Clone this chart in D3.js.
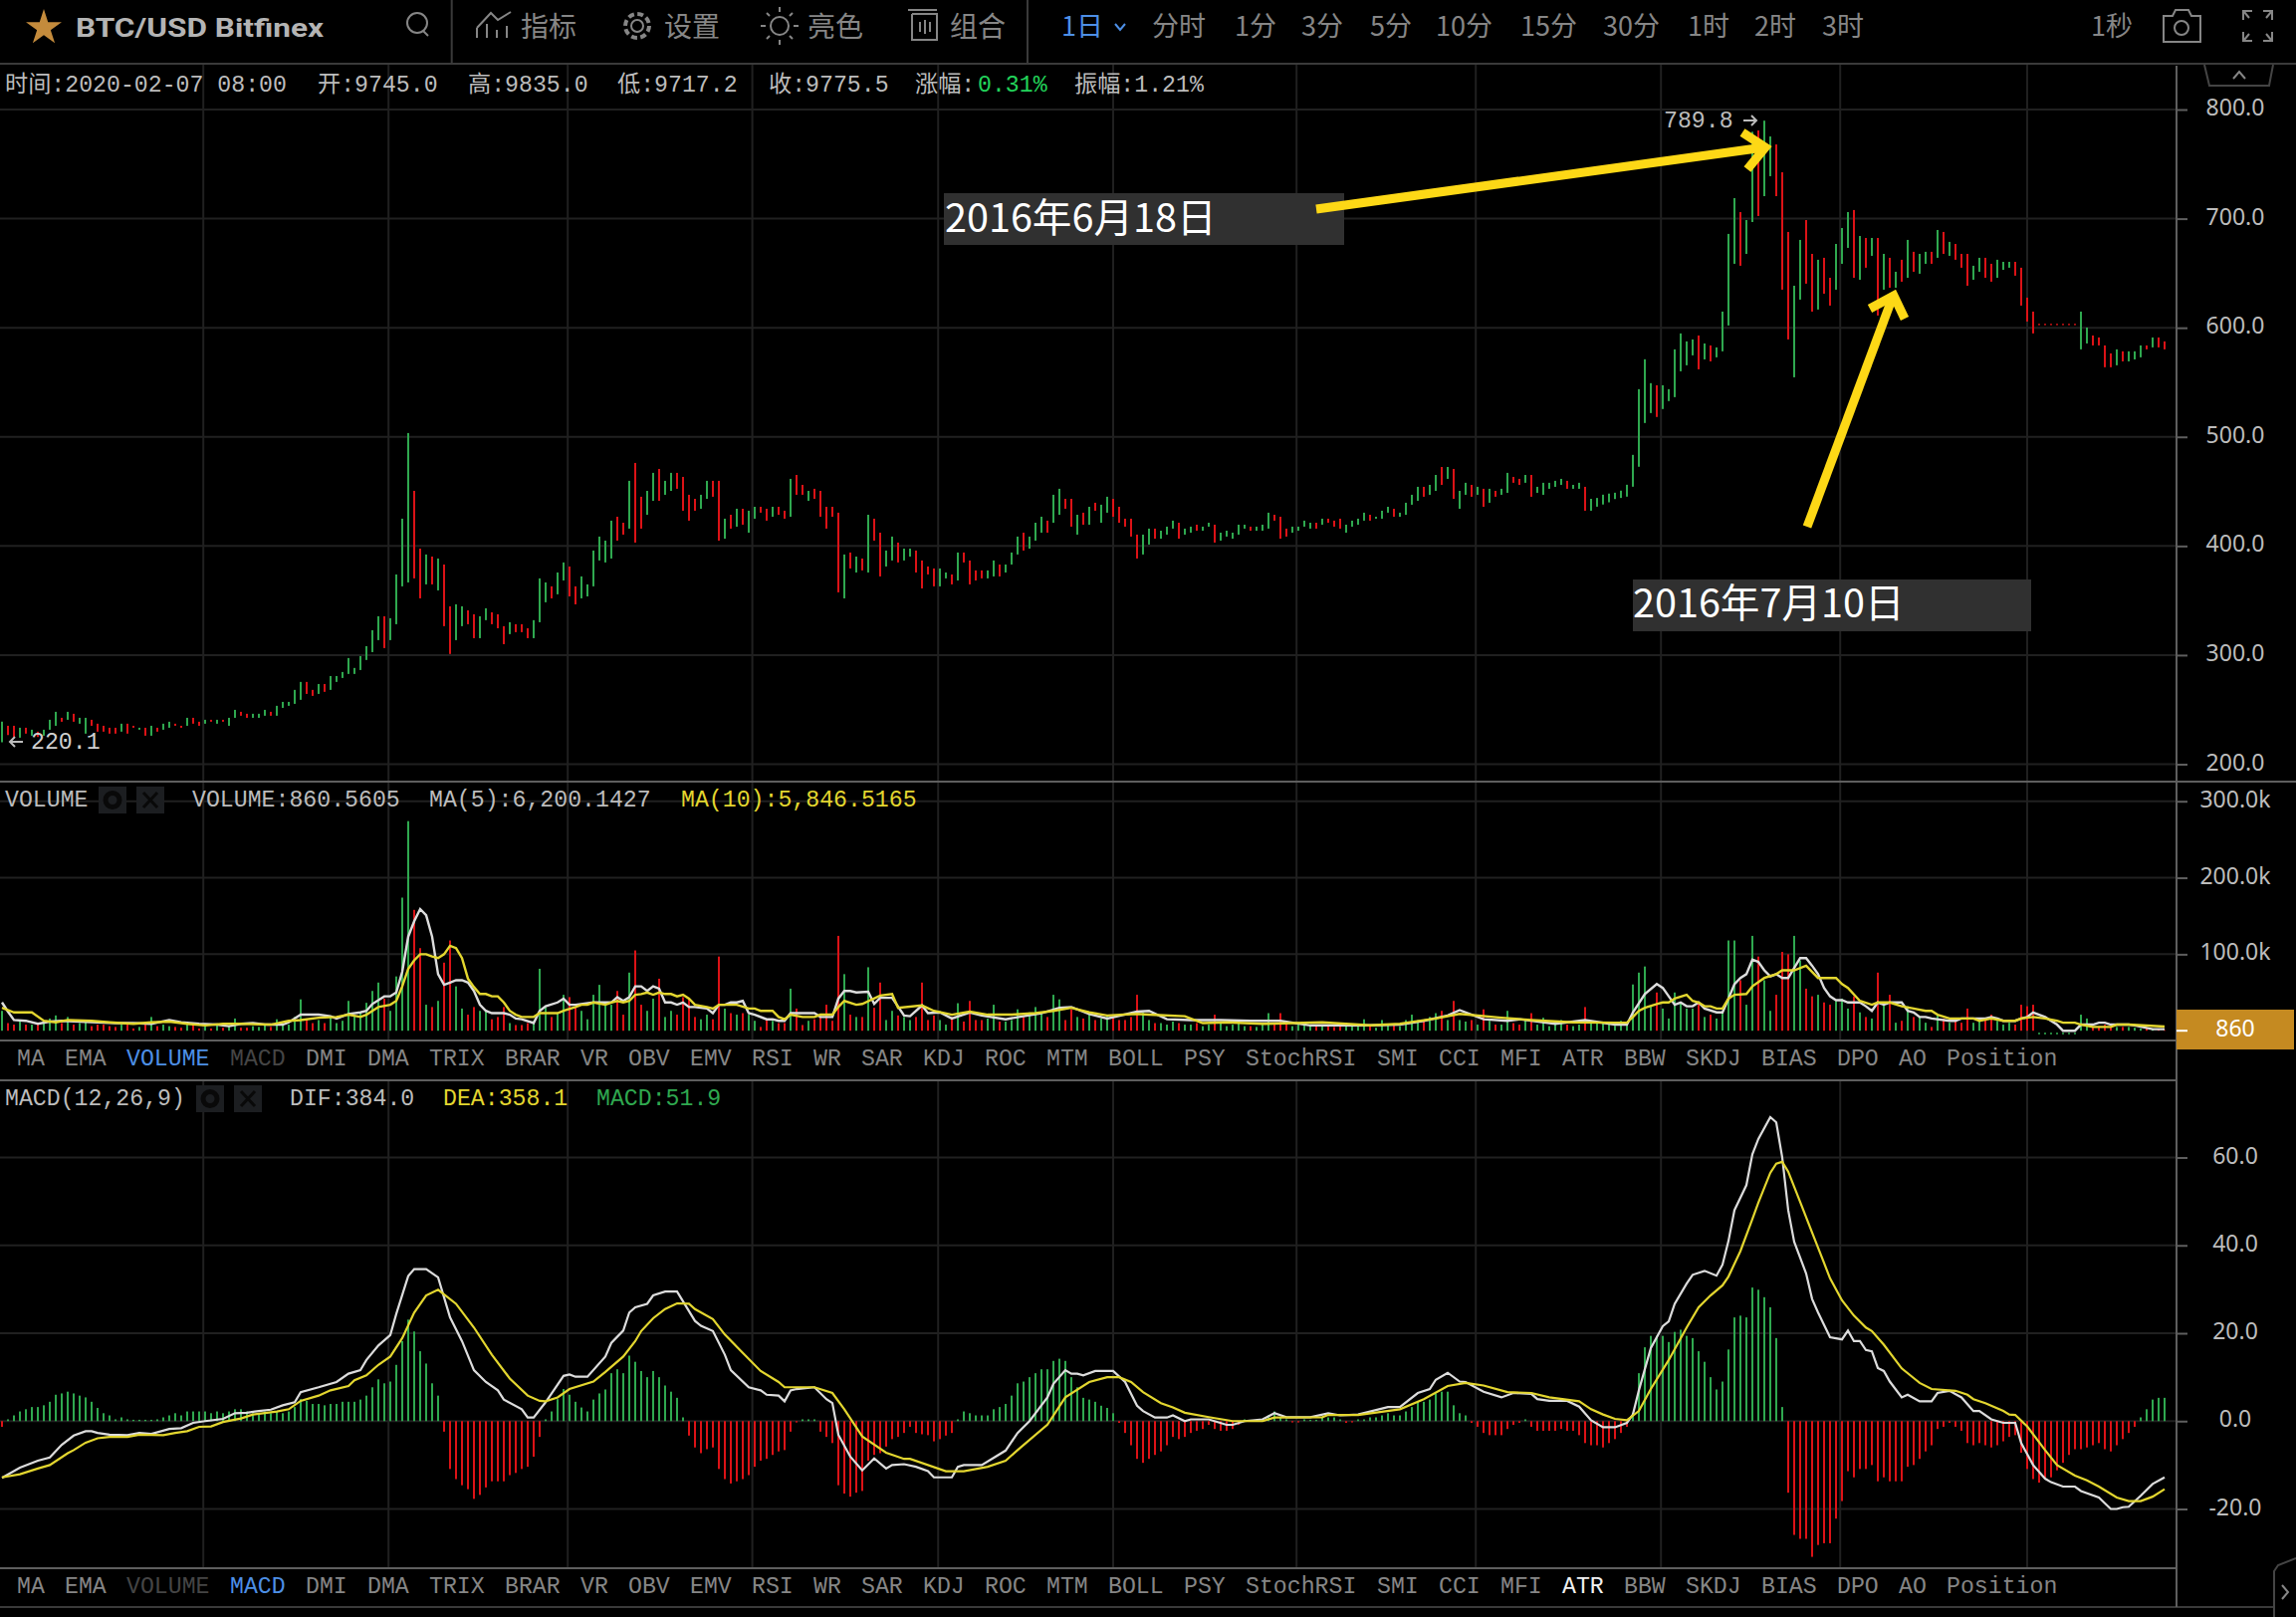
<!DOCTYPE html>
<html>
<head>
<meta charset="utf-8">
<script src="https://cdnjs.cloudflare.com/ajax/libs/d3/7.8.5/d3.min.js"></script>
<style>
  html, body { margin: 0; padding: 0; background: #000; }
  svg { display: block; }
</style>
</head>
<body>
<svg id="chart" width="2306" height="1624"></svg>
<script>
// candle range per day
const highs = [
  239,235.2,235.2,233.4,233.4,231.6,229.8,231.6,240.7,248,
  242.5,248,246.2,242.5,242.5,240.7,237.1,235.2,233.4,233.4,
  237.1,237.1,235.2,233.4,233.4,235.2,233.4,237.1,238.9,237.1,
  235.2,242.5,242.5,238.9,240.7,240.7,240.7,240.7,242.5,249.8,
  248,246.2,246.2,246.2,249.8,248,253.5,257.1,257.1,268.1,
  275.4,275.4,268.1,273.5,273.5,280.8,280.8,284.5,297.3,288.2,
  299.1,308.2,322.8,335.6,335.6,333.8,373.9,425,503.5,450.5,
  397.6,392.2,390.3,388.5,383,344.7,346.5,344.7,341,337.4,
  335.6,342.9,339.2,337.4,326.5,330.1,328.3,328.3,324.6,332,
  370.3,366.6,363,375.7,384.9,381.2,363,372.1,364.8,395.8,
  408.6,404.9,423.2,426.8,421.3,459.7,476.1,445.1,450.5,467,
  470.6,459.7,467,467,463.3,446.9,443.2,446.9,459.7,459.7,
  459.7,425,428.6,434.1,434.1,432.3,435.9,435.9,434.1,435.9,
  435.9,432.3,461.5,465.1,456,450.5,452.4,450.5,435.9,435.9,
  430.5,392.2,394,390.3,388.5,428.6,425,412.2,395.8,408.6,
  403.1,397.6,397.6,395.8,386.7,381.2,379.4,379.4,375.7,373.9,
  394,394,386.7,377.6,377.6,377.6,386.7,383,383,394,
  408.6,412.2,408.6,421.3,426.8,423.2,446.9,452.4,443.2,443.2,
  428.6,430.5,435.9,439.6,437.8,445.1,443.2,435.9,425,425,
  410.4,410.4,415.9,415.9,414,417.7,423.2,421.3,415.9,417.7,
  419.5,417.7,421.3,419.5,412.2,414,412.2,419.5,419.5,417.7,
  417.7,419.5,430.5,428.6,426.8,415.9,417.7,417.7,423.2,421.3,
  421.3,425,425,423.2,425,419.5,423.2,425,430.5,428.6,
  426.8,432.3,435.9,434.1,430.5,439.6,446.9,454.2,454.2,456,
  465.1,472.4,472.4,470.6,450.5,457.9,456,454.2,452.4,452.4,
  450.5,452.4,467,463.3,461.5,465.1,465.1,454.2,457.9,457.9,
  459.7,461.5,459.7,456,457.9,454.2,443.2,444,447,448,
  448.8,450.7,456.1,483.5,543.7,571.1,549.2,547.3,547.3,543.7,
  580.2,594.8,587.5,589.3,592.9,585.6,583.8,582,614.8,686,
  718.8,706,698.7,779.6,780.8,789.8,775.3,768,742.5,687.8,
  638.5,680.5,698.7,667.7,662.3,664.1,645.8,676.8,691.4,706,
  707.9,684.1,682.3,682.3,682.3,667.7,664.1,651.3,662.3,680.5,
  669.6,667.7,669.6,669.6,689.6,687.8,678.7,676.8,667.7,667.7,
  656.8,664.1,664.1,658.6,662.3,660.4,660.4,660.4,655,627.6,
  614.8,603.6,603.6,603.6,603.6,603.6,603.6,603.6,614.8,600.2,
  592.9,591.1,583.8,576.5,580.2,578.4,578.4,578.4,583.8,583.8,
  591.1,591.1,587.5
];
const lows = [
  220.1,226.7,224.6,224.3,228,226.1,224.9,226.1,231.6,235.2,
  238.9,240.7,238.9,237.1,228,235.2,229.8,229.8,228,228,
  229.8,228,233.4,231.6,226.1,226.1,229.8,231.6,233.4,235.2,
  233.4,235.2,237.1,235.2,237.1,238.9,237.1,238.9,235.2,242.5,
  244.4,242.5,242.5,242.5,244.4,244.4,244.4,251.6,253.5,255.3,
  259,264.4,262.6,264.4,266.3,268.1,275.4,279,282.7,282.7,
  286.3,295.5,302.7,313.7,306.4,313.7,328.3,363,366.6,370.3,
  352,364.8,364.8,359.3,326.5,301,313.7,326.5,328.3,315.5,
  315.5,332,328.3,324.6,310,319.2,321,321,315.5,315.5,
  330.1,348.4,352,355.7,368.4,353.8,346.5,352,353.8,363,
  386.7,384.9,388.5,404.9,410.4,415.9,403.1,415.9,428.6,441.4,
  441.4,446.9,450.5,452.4,432.3,423.2,432.3,434.1,443.2,445.1,
  404.9,406.7,415.9,417.7,419.5,412.2,425,430.5,423.2,426.8,
  428.6,425,426.8,446.9,446.9,441.4,443.2,426.8,415.9,426.8,
  357.5,352,379.4,375.7,377.6,375.7,404.9,372.1,381.2,386.7,
  384.9,386.7,390.3,375.7,361.1,373.9,363,363,370.3,364.8,
  368.4,384.9,364.8,368.4,370.3,370.3,372.1,372.1,375.7,383,
  392.2,395.8,397.6,404.9,412.2,412.2,421.3,428.6,434.1,417.7,
  410.4,419.5,419.5,432.3,421.3,430.5,426.8,421.3,417.7,408.6,
  388.5,392.2,401.3,406.7,406.7,410.4,415.9,406.7,410.4,412.2,
  414,414,417.7,403.1,404.9,408.6,406.7,410.4,415.9,414,
  414,414,415.9,423.2,406.7,408.6,412.2,414,417.7,415.9,
  415.9,419.5,421.3,417.7,415.9,412.2,417.7,419.5,423.2,423.2,
  425,425,430.5,426.8,426.8,428.6,437.8,441.4,445.1,446.9,
  450.5,456,461.5,443.2,434.1,446.9,445.1,446.9,435.9,439.6,
  445.1,446.9,448.7,457.9,456,457.9,445.1,448.7,446.9,452.4,
  454.2,456,452.4,452.4,452.4,432.3,432.3,436,438,440,
  443,444,445.2,454.3,472.6,512.7,521.8,518.2,525.5,532.8,
  536.4,560.1,565.6,574.7,561.9,571,569.2,572.9,578.4,602.1,
  658.6,656.8,667.7,696.9,702.4,720.6,738.9,720.6,634.9,589.3,
  554.6,625.8,640.4,614.8,616.7,631.2,620.3,634.9,658.6,673.2,
  645.8,644,655,665.9,611.2,634.9,636.7,636.7,642.2,645.8,
  651.3,649.5,658.6,658.6,664.1,667.7,665.9,662.3,655,638.5,
  644,651.3,645.8,642.2,645.8,653.1,655,647.7,620.3,605.7,
  594.8,602.4,602.4,602.4,602.4,602.4,602.4,602.4,580.2,585.6,
  583.8,583.8,563.8,563.8,565.6,569.2,569.2,571,572.9,580.2,
  582,582,580.2
];
// g = up (green), r = down (red), one letter per day
const directions = (
  "grrgrgrggg" + "rgrggrrrrr" + "grrgrgrggr" + "rgrrgrgrgg" + "rrgggrgggg" +
  "grrgrggggg" + "ggggrggggr" + "rgrgrrggrr" + "ggrrrgrrrg" + "ggrggrrggg" +
  "gggrrgrrgg" + "rggrrrrggr" + "rgrgrggrrg" + "rrgrrgrrrr" + "rgrgrgrrgg" +
  "rggrrrrggr" + "grrrrggrgg" + "grgggrggrr" + "grgrggrrrr" + "rggrgggrgg" +
  "rggrgggggr" + "gggrrrgggg" + "rgrrrggggr" + "gggrggggrg" + "grgrggrgrg" +
  "rggrrgrggg" + "ggrggrgggg" + "gggggggrgg" + "ggggrgrggg" + "grggrggrrr" +
  "ggrrgrrggg" + "rgrgrgrgrg" + "rggrgrgrrr" + "ggrrgggrrr" + "rrrrrrrrgg" +
  "rrrrgrgggr" + "grr"
).split("");

// volume in thousands
const volumes = [
  26,10,8,12,8,8,10,10,16,20,
  10,18,8,10,12,6,8,8,6,5,
  8,8,3,5,8,18,6,8,6,5,
  4,8,7,3,6,3,8,4,7,16,
  4,4,6,5,8,5,15,10,8,18,
  41,16,10,14,10,18,10,13,39,18.5,
  25,36.5,52,63,42,26,71,174,274,158,
  108,34,31,39,89,118,58,29,21,31,
  26,26,15,18,31,10,7.5,7.5,10,13,
  81,31,18,23,47,44,31,26,15,47,
  60,34,34,52,21,76,105,34,26,42,
  68,18,26,21,44,42,18,15,21,15,
  97,29,23,21,23,21,13,5,15,13,
  10,10,55,29,7.5,13,15,18,34,13,
  124,74,21,18,18,83,30,63,14,26,
  20,18,14,18,63,14,20,14,8,18,
  36,12,39,14,14,16,34,12,12,14,
  28,18,24,31,22,18,47,41,14,28,
  18,16,24,14,16,20,18,14,14,18,
  47,24,14,10,10,8,12,10,8,8,
  10,6,8,21,10,6,8,10,6,6,
  5,8,23,8,23,12,6,8,8,6,
  8,8,6,5,10,10,6,6,15,6,
  4,14,8,7,6,14,21,14,12,18,
  23,26,14,39,14,12,14,8,28,13,
  8,8,26,10,8,14,23,8,17,6,
  10,14,8,6,8,31,12,10,10,8,
  6.5,13,11,60.5,76,84,31.6,50,29,16,
  50,37,29,29,37,18,21,16,26,118,
  118,66,34,124,97,66,26,47,103,100,
  124,92,55,45,47,37,34,39,42,29,
  45,24,18,16,76,34,47,10.5,13,32,
  18,18,10.5,5,21,16,10.5,13,10.5,29,
  10.5,13,16,21,13,8,10.5,8,34,32,
  34,-2,-2,-2,-2,-2,-2,-2,21,16,
  5,5,8,5,5,5,5,4,3,3,
  3,2,0.9
];
const volumeMa5 = [
  [0,37],[1,25],[2,14],[4,13],[6,9],[8,12],[10,13],[13,12],[16,11],[19,10],[22,10],[25,9],[28,14],[30,11],[33,9],[36,8],[38,6],[40,9],[42,10],[44,8],[47,8],[48,11],[50,21],[53,21],[55,19],[56,16],
  [58,22],[60,24],[61,26],[62,35],[64,45],[65,45],[66,50],[67,77],[68,123],[69,143],[70,159],[71,151],[72,123],[73,74],[74,60],[75,63],[76,66],[77,66],[78,63],[79,52],[80,34],[81,26],[82,23],[84,23],[85,21],[86,16],[87,15],[89,10],[90,26],[91,32],[93,37],[94,42],[95,34],[96,34],[99,37],[102,37],[103,44],[104,39],[105,44],[106,58],[107,58],[108,52],[109,58],[110,55],[111,37],[112,37],[113,34],[114,37],[115,31],[116,31],[118,29],[119,23],[120,34],[121,34],[122,37],[123,37],[124,39],[125,23],[126,21],[128,15],[129,15],[130,13],[131,13],[132,23],[133,23],[136,23],[137,18],[139,18],[140,42],[141,52],[142,52],[143,50],
  [145,51],[146,35],[147,43],[149,43],[151,20],[152,19],[154,33],[155,23],[157,24],[159,16],[162,24],[164,20],[168,15],[174,23],[177,30],[179,31],[182,22],[185,16],[190,25],
  [192,26],[195,15],[199,14],[204,14],[209,13],[214,13],[219,7],[224,7],[229,7],[234,8],[238,13],[242,20],[244,27],[248,15],[252,13],[254,15],[260,9],[265,14],[270,8],
  [272,8],[273,24],[274,36],[275,48],[277,61],[278,56],[280,34],[281,37],[282,32],[283,32],[284,37],[285,29],[287,24],[288,24],[289,42],[290,61],[291,69],[292,74],[293,93],[294,90],[295,79],[296,71],[297,74],[298,69],[299,69],[300,82],[301,95],[302,95],[303,85],[304,74],[305,56],[306,45],[307,40],[308,40],[309,37],[311,37],[312,32],[313,26],[314,37],[315,34],[316,37],[318,37],[319,26],[320,24],[321,18],[322,18],[323,16],[326,13],[327,13],[328,16],[332,16],[333,18],[334,16],[335,13],[337,13],[338,16],[339,18],[340,24],[341,21],[342,18],[343,13],[344,8],[345,0],[347,0],[348,8],[350,8],[351,10.5],[352,10.5],[353,8],[356,8],[357,7],[360,2],[362,2]
];
const volumeMa10 = [
  [0,30],[2,24],[5,24],[7,13],[9,11],[11,14],[15,13],[18,11],[22,9],[25,11],[28,12],[31,9],[34,7],[37,9],[40,9],[45,8],[48,13],[50,14],[53,17],[56,18],
  [58,21],[60,18],[61,21],[62,26],[63,31],[65,34],[66,39],[67,58],[68,81],[69,92],[70,100],[71,100],[72,97],[73,95],[74,100],[75,111],[76,108],[77,95],[78,68],[79,57],[80,48],[81,48],[82,45],[83,45],[84,37],[85,26],[86,21],[87,18],[89,18],[90,23],[93,23],[94,26],[96,31],[97,34],[98,34],[99,37],[101,34],[102,37],[103,39],[104,37],[105,39],[106,47],[107,48],[108,50],[109,47],[110,50],[111,48],[112,48],[113,45],[114,47],[115,42],[116,34],[118,31],[119,29],[120,34],[123,34],[125,29],[126,29],[127,26],[129,26],[130,18],[131,15],[132,21],[134,18],[136,18],[137,21],[139,21],[140,31],[141,39],[143,34],
  [144,35],[147,46],[149,48],[150,30],[154,33],[156,26],[159,21],[162,25],[165,21],[169,21],[173,23],[176,26],[179,30],[182,24],[185,20],[190,22],
  [192,21],[198,19],[201,10],[205,11],[211,9],[221,11],[229,7],[234,9],[240,16],[244,22],[251,17],[256,14],[263,11],[270,10.5],
  [272,10.5],[273,18],[274,26],[275,30],[277,35],[278,37],[279,37],[280,42],[282,47],[283,39],[284,37],[285,32],[286,32],[287,29],[288,29],[289,42],[290,47],[292,48],[293,58],[295,69],[297,74],[298,79],[300,79],[302,85],[303,77],[304,69],[307,69],[308,61],[309,56],[311,39],[313,34],[314,37],[316,37],[318,32],[320,29],[322,26],[323,26],[324,21],[326,16],[330,16],[331,13],[333,16],[335,13],[337,13],[338,16],[340,18],[342,16],[344,13],[345,10.5],[347,10.5],[348,8],[350,5],[353,5],[354,8],[356,8],[362,5.5]
];

const macdHist = [
  -1.3,.4,1.3,2.2,2.7,3.2,3.2,3.6,4.4,6,
  6.3,6.7,6.3,5.8,5.4,4.4,3,1.8,1.3,.4,
  .85,.4,.3,.3,.3,.3,.4,.85,1.3,1.8,
  1.3,2.2,2.2,2.2,2.2,1.8,2.2,1.8,2.2,2.7,
  2.7,2.2,1.8,1.8,2.2,1.8,2.2,1.8,2.2,3.2,
  5,4.6,3.9,3.9,3.6,3.9,3.9,4.4,4.4,4.4,
  4.9,5.8,7.7,9.5,8.6,9,12.8,18.2,23.1,20.4,
  15.9,13.1,8.6,5.8,-2.4,-10.9,-13.2,-14.6,-15.5,-17.7,
  -16.8,-15.1,-13.7,-13.7,-13.7,-12.3,-11.8,-10.9,-10.4,-8.1,
  -3.6,.4,2.2,5,7.3,6,4.4,3.1,2.2,4.9,
  6.3,7.2,10.9,11.8,10.9,14.9,13.5,11.4,10,11.4,
  10,8.1,6.7,5.3,.85,-3.3,-6,-7.3,-6.4,-6,
  -10.9,-13.2,-14.2,-13.7,-13.2,-12.3,-10.4,-9,-8.6,-7.7,
  -6.9,-6.6,-2.4,-.3,.4,.4,.4,-2.4,-3.6,-5,
  -14.6,-16.5,-17.2,-16.3,-15.9,-9,-7.7,-7.3,-5.8,-4.1,
  -3.6,-2.7,-1.3,-2.7,-3,-3.2,-4.6,-4.1,-3.3,-2.7,
  .4,2.2,1.8,1.3,1.3,1.3,2.7,3.2,3.9,5.8,
  8.6,9,10,10.9,11.8,11.8,13.7,14.2,13.7,10,
  7.7,5.3,4.9,4.4,3.5,3,1.8,-.4,-2.7,-5.5,
  -8.6,-9.5,-8.6,-7.7,-6.9,-5.5,-3.6,-4.1,-3.6,-2.7,
  -2.2,-1.8,-.85,-1.8,-2.2,-2.2,-1.8,-.85,.4,.3,
  .3,.3,1.3,2.2,.85,.4,-.3,-.3,.4,.3,
  .3,.85,.85,.85,.4,-.4,-.3,.4,.4,.85,
  .85,1.3,1.8,1.3,1.3,2.2,3.2,4.4,4.4,4.9,
  6.3,6.7,6.7,3.6,1.8,1.3,-.4,-1.3,-2.7,-3.2,
  -3.2,-3.2,-1.8,-.85,-.4,.4,-1.3,-2.2,-2.2,-2.2,
  -2.2,-1.8,-2.2,-2.2,-3.2,-5,-5.5,-5.5,-6,-5,
  -4.1,-2.7,-1.3,1.9,10.9,16.8,19.4,19.4,19.4,18,
  20.3,20.8,19.4,18.9,15.9,13.5,10,7.2,9,16.3,
  23.6,24,23.6,30.4,29.9,28.2,25.9,18.9,3.2,-16.3,
  -25.9,-26.8,-26.8,-30.9,-28.2,-27.8,-27.8,-22.2,-18.2,-11.4,
  -12.8,-10.9,-10.9,-10,-13.7,-12.8,-13.7,-13.7,-13.7,-10.4,
  -10,-8.6,-6.9,-5.5,-1.8,-1.3,-.4,-1.3,-2.2,-5,
  -5.5,-5,-5.5,-6,-5.5,-4.6,-3.6,-3.2,-7.2,-10.9,
  -13.2,-14,-13.2,-12.8,-11.2,-9.5,-7.7,-6.4,-6.4,-6,
  -5.5,-5,-6.4,-6.9,-5.5,-4.1,-2.7,-1.3,.85,2.7,
  4.9,5.3,5.3
];
const difPoints = [
  [0,-12.9],[3,-10.6],[6,-9],[8,-8.3],[10,-5.4],[12,-3.3],[14,-2.3],[15,-2.3],[16,-2.7],[18,-3.1],[21,-3.2],[23,-2.7],[25,-2.9],[28,-1.8],[30,-1.6],[32,-.4],[34,0],[37,.5],[39,1.8],[41,1.9],[43,2.3],[45,2.6],[47,3.6],[49,4.3],[50,6.6],[53,7.7],[56,8.9],[58,10.8],[60,11.6],[61,13.9],[63,17.2],[65,19.6],[66,24.4],[68,33],[69,34.6],[71,34.6],[73,32.7],[75,23.6],[77,18.2],[79,11.6],[81,8.9],[83,7],[84,4.9],[87,2.7],[88,.8],[89,.8],[91,4.3],[94,10.3],[95,10.6],[96,10.1],[98,10.1],[101,14.7],[102,17.8],[104,20.6],[105,24.7],[106,25.9],[108,26.7],[109,28.6],[111,29.5],[113,29.5],[116,22.8],[117,21.7],[119,20.5],[121,15.1],[122,11.6],[125,7.7],[127,7],[128,6],[130,5.8],[131,4.5],[132,7],
  [133,7.3],[136,7.7],[138,5],[139,4.1],[140,-3.1],[142,-8.1],[144,-11.2],[146,-8.5],[148,-10.8],[149,-10],[151,-9.8],[153,-10.4],[155,-11.4],[156,-12.8],[159,-12.8],[160,-10.4],[161,-10],[164,-10],[168,-6.7],[170,-2.7],[172,0],[175,5.4],[176,8.5],[178,11.6],[179,10.8],[180,10.8],[181,10.4],[183,11.4],[186,11.4],[188,8.9],[190,3.5],[191,2.3],[193,.8],[195,.8],[196,1.3],[198,0],[199,.4],[202,.4],[205,-.85],[206,-.85],[208,0],[211,.4],[213,1.8],[215,.9],[219,.9],[222,1.8],[224,1.3],[227,1.5],[232,3.2],[234,3.2],[237,6.4],[239,7.3],[240,9.4],[242,11],[244,9],[245,8.9],[248,6.7],[251,5.4],[253,6.4],[256,6.2],[257,5],[259,4.6],[262,4.6],[264,3.3],[266,.2],
  [268,-1.4],[270,-1.4],[272,-.4],[273,1.5],[274,7],[276,16.6],[278,21.6],[279,22.7],[280,26.7],[282,31.3],[283,33.3],[285,34.2],[287,33.1],[288,35.6],[289,41],[290,48],[292,53.7],[293,60.7],[294,64.2],[296,69.2],[297,68],[298,60],[299,48],[300,40.8],[302,33.6],[303,27.8],[304,24.7],[306,19.1],[308,18.6],[309,20.6],[310,18.2],[311,18.2],[312,16.2],[313,15.9],[314,12.1],[315,11.4],[316,9],[318,5.4],[319,6],[321,4.5],[323,4.5],[324,6.4],[326,6.9],[328,5.4],[330,2.3],[331,2.3],[333,.4],[335,-.4],[337,-.4],[338,-5],[340,-10],[342,-13.1],[343,-13.9],[345,-14.9],[347,-14.9],[348,-15.9],[351,-17.4],[353,-20],[354,-20],[355,-19.6],[356,-19.5],[358,-17],[360,-14.3],[362,-12.8]
];
const deaPoints = [
  [0,-12.8],[3,-12.1],[6,-10.8],[8,-10],[11,-7.3],[12,-6.6],[14,-4.9],[16,-3.9],[18,-3.6],[21,-3.6],[23,-3.1],[27,-3.2],[29,-2.7],[31,-2.3],[33,-1.3],[35,-1.2],[37,-.2],[40,.6],[42,1.5],[46,2.2],[48,2.7],[50,4.6],[53,5.8],[55,7],[58,8],[59,9.3],[61,10.4],[63,12.8],[65,14.7],[67,18.9],[69,24.7],[71,28.6],[73,29.9],[76,26.7],[79,21.3],[82,15.1],[85,9.7],[88,5.8],[90,4.6],[91,4.5],[93,5.4],[95,7.3],[99,9],[101,11.2],[104,14.7],[106,18.2],[107,20.5],[109,23.4],[111,25.5],[113,26.8],[115,26.7],[116,25.5],[119,23.2],[121,19.7],[124,15.5],[127,11.4],[130,8.9],[131,7.7],[133,7.7],
  [136,7.7],[139,6.4],[141,2.7],[144,-3.5],[148,-7.2],[151,-8.6],[152,-8.6],[158,-11.4],[161,-11.4],[165,-10.4],[168,-9],[170,-6.6],[175,-.8],[178,5.4],[182,8.9],[185,10],[187,10],[189,8.9],[191,6.6],[194,4.1],[196,3.1],[198,1.9],[202,.9],[206,0],[211,0],[213,.8],[221,.9],[222,1.4],[227,1.4],[234,2.7],[238,5],[242,8],[245,8.7],[248,8.1],[252,6.6],[256,6.4],[259,5.4],[264,4.5],[266,2.7],
  [268,1.5],[270,.5],[272,.2],[274,2.3],[276,7.3],[279,13.9],[282,21.3],[284,25.9],[286,28.6],[288,30.9],[289,32.9],[291,38.7],[293,46],[294,49.7],[296,56.5],[297,58.6],[298,59],[299,56.8],[301,49.9],[303,42.9],[305,36],[306,32.5],[308,27.5],[310,24],[312,21.3],[313,20.5],[315,17.4],[318,12],[320,9.8],[321,8.7],[323,7.3],[327,6.9],[329,6],[330,5],[332,4.1],[335,2.3],[336,1.5],[337,1.4],[339,-1.2],[342,-6.6],[344,-10],[347,-12.4],[349,-13.5],[351,-14.9],[354,-17.4],[356,-18.2],[358,-18.2],[360,-17.2],[362,-15.5]
];

const priceTicks = [800, 700, 600, 500, 400, 300, 200];
const volumeTicks = [300, 200, 100];
const macdTicks = [60, 40, 20, 0, -20];
const monthLines = [33.7, 64.7, 94.7, 125.6, 156.7, 186, 216.7, 246.7, 277.7, 307.7, 339];
const indicatorNames = ["MA","EMA","VOLUME","MACD","DMI","DMA","TRIX","BRAR","VR","OBV","EMV","RSI","WR","SAR","KDJ","ROC","MTM","BOLL","PSY","StochRSI","SMI","CCI","MFI","ATR","BBW","SKDJ","BIAS","DPO","AO","Position"];
const toolbarItems = [["指标",523],["设置",667],["亮色",811],["组合",954]];
const periodItems = [["分时",1157],["1分",1240],["3分",1307],["5分",1376],["10分",1442],["15分",1527],["30分",1610],["1时",1695],["2时",1762],["3时",1830],["1秒",2100]];

const GREEN = "#2fa84f", RED = "#dc1216", GRID = "#202020", EDGE = "#5e5e5e";
const WHITE = "#dcdcdc", YELLOW = "#e3d62f", TXT = "#bcbcbc", DIM = "#868686", BLUE = "#4d8fe6";
const MONO = "'Liberation Mono','Noto Sans CJK SC',monospace";
const CJK = "'Noto Sans CJK SC',sans-serif";
const AXISFONT = "'Noto Sans',sans-serif";

const axisX = 2186;
const panes = {
  main: { top: 65, bottom: 785 },
  vol: { top: 785, bottom: 1045 },
  macd: { top: 1085, bottom: 1575 },
};

const svg = d3.select("#chart");
svg.append("rect").attr("width", 2306).attr("height", 1624).attr("fill", "#000");

const x = d3.scaleLinear().domain([0, 362]).range([2, 2174]);
const yPrice = d3.scaleLinear().domain([200, 800]).range([767.5, 110]);
const yVol = d3.scaleLinear().domain([0, 300]).range([1035.2, 804.7]);
const yMacd = d3.scaleLinear().domain([-20, 60]).range([1515.5, 1162.5]);

function label(parent, px, py, text, fill, size = 23.2, family = MONO) {
  return parent.append("text")
    .attr("x", px).attr("y", py).attr("dy", ".35em")
    .attr("fill", fill).attr("font-size", size).attr("font-family", family)
    .style("white-space", "pre")
    .text(text);
}

// grid
const gridLayer = svg.append("g").attr("stroke", GRID).attr("stroke-width", 2);
Object.values(panes).forEach((p) => {
  gridLayer.append("g").selectAll("line").data(monthLines).join("line")
    .attr("x1", (d) => x(d)).attr("x2", (d) => x(d))
    .attr("y1", p.top).attr("y2", p.bottom);
});
[[priceTicks, yPrice], [volumeTicks, yVol], [macdTicks, yMacd]].forEach(([ticks, y]) => {
  gridLayer.append("g").selectAll("line").data(ticks).join("line")
    .attr("x1", 0).attr("x2", axisX)
    .attr("y1", (d) => y(d)).attr("y2", (d) => y(d));
});

// candles (the bodies are as thin as the wicks at this zoom)
svg.append("g").selectAll("rect").data(highs).join("rect")
  .attr("x", (d, i) => x(i) - 1)
  .attr("width", 2)
  .attr("y", (d) => yPrice(d))
  .attr("height", (d, i) => Math.max(1, yPrice(lows[i]) - yPrice(d)))
  .attr("fill", (d, i) => (directions[i] === "g" ? GREEN : RED));

// volume
svg.append("g").selectAll("rect").data(volumes).join("rect")
  .attr("x", (d, i) => x(i) - 1)
  .attr("width", 2)
  .attr("y", (d) => Math.min(yVol(d), yVol(0)) + (d < 0 ? 2 : 0))
  .attr("height", (d) => Math.abs(yVol(d) - yVol(0)))
  .attr("fill", (d, i) => (d < 0 || directions[i] === "g" ? GREEN : RED));

const volLine = d3.line().x((d) => x(d[0])).y((d) => yVol(d[1]));
svg.append("path").attr("d", volLine(volumeMa5)).attr("fill", "none").attr("stroke", WHITE).attr("stroke-width", 2.4);
svg.append("path").attr("d", volLine(volumeMa10)).attr("fill", "none").attr("stroke", YELLOW).attr("stroke-width", 2.4);

// macd
svg.append("g").selectAll("rect").data(macdHist).join("rect")
  .attr("x", (d, i) => x(i) - 1)
  .attr("width", 2)
  .attr("y", (d) => Math.min(yMacd(d), yMacd(0)))
  .attr("height", (d) => Math.abs(yMacd(d) - yMacd(0)))
  .attr("fill", (d) => (d >= 0 ? GREEN : RED));

const macdLine = d3.line().x((d) => x(d[0])).y((d) => yMacd(d[1]));
svg.append("path").attr("d", macdLine(difPoints)).attr("fill", "none").attr("stroke", WHITE).attr("stroke-width", 2.2);
svg.append("path").attr("d", macdLine(deaPoints)).attr("fill", "none").attr("stroke", YELLOW).attr("stroke-width", 2.2);

// pane borders
[[64, 2306, "#3a3a3a"], [785, 2306, EDGE], [1045, axisX, EDGE], [1085, axisX, EDGE], [1575, axisX, EDGE], [1614, 2284, "#3a3a3a"]].forEach(([py, x2, c]) => {
  svg.append("line").attr("x1", 0).attr("x2", x2).attr("y1", py).attr("y2", py)
    .attr("stroke", c).attr("stroke-width", 2);
});

// right axes
function rightAxis(y, ticks, fmt) {
  const g = svg.append("g").attr("transform", `translate(${axisX},0)`)
    .call(d3.axisRight(y).tickValues(ticks).tickFormat(fmt).tickSize(11));
  g.select(".domain").remove();
  g.selectAll(".tick line").attr("stroke", EDGE).attr("stroke-width", 2);
  g.selectAll(".tick text")
    .attr("x", 59).attr("dy", ".24em").attr("text-anchor", "middle")
    .attr("fill", TXT).attr("font-size", 23).attr("font-family", AXISFONT);
}
rightAxis(yPrice, priceTicks, (d) => d.toFixed(1));
rightAxis(yVol, volumeTicks, (d) => d.toFixed(1) + "k");
rightAxis(yMacd, macdTicks, (d) => d.toFixed(1));
svg.append("line").attr("x1", axisX).attr("x2", axisX).attr("y1", 66).attr("y2", 1614)
  .attr("stroke", EDGE).attr("stroke-width", 2);

// last volume tag
svg.append("rect").attr("x", 2186).attr("y", 1014).attr("width", 118).attr("height", 40).attr("fill", "#c58a21");
svg.append("line").attr("x1", 2186).attr("x2", 2197).attr("y1", yVol(0)).attr("y2", yVol(0)).attr("stroke", "#fff").attr("stroke-width", 2);
label(svg, 2245, 1033, "860", "#fff", 23, AXISFONT).attr("text-anchor", "middle");

const markers = svg.append("g").attr("fill", "none").attr("stroke", TXT).attr("stroke-width", 2);

// high and low markers
label(svg, 1671, 120, "789.8", TXT, 23.2);
markers.append("path").attr("d", "M1751 121 H1764 M1759 116 L1764 121 L1759 126");
markers.append("path").attr("d", "M10 745 H23 M15 740 L10 745 L15 750");
label(svg, 31, 744, "220.1", "#d0d0d0", 23.2);

// toolbar
svg.append("path")
  .attr("d", d3.symbol(d3.symbolStar, 400)())
  .attr("transform", "translate(44,28)")
  .attr("fill", "#c48b3c");
label(svg, 76, 28, "BTC/USD Bitfinex", "#b4b4b4", 26, "'Roboto',sans-serif")
  .attr("font-weight", 700).attr("textLength", 249).attr("lengthAdjust", "spacingAndGlyphs");

const icons = svg.append("g").attr("fill", "none").attr("stroke", DIM).attr("stroke-width", 2);
icons.append("circle").attr("cx", 419).attr("cy", 23).attr("r", 10);
icons.append("line").attr("x1", 425).attr("y1", 31).attr("x2", 430).attr("y2", 36);
icons.append("path").attr("d", "M479 38 V28 M489 38 V24 M499 38 V30 M509 38 V26 M479 28 L493 13 L500 20 L513 12");
icons.append("circle").attr("cx", 640).attr("cy", 26).attr("r", 6);
icons.append("circle").attr("cx", 640).attr("cy", 26).attr("r", 12).attr("stroke-width", 4).attr("stroke-dasharray", "6 3.4");
icons.append("circle").attr("cx", 783).attr("cy", 26).attr("r", 9);
icons.append("path").attr("d", "M783 7 V12 M783 40 V45 M764 26 H769 M797 26 H802 M770 13 L773 16 M793 36 L796 39 M770 39 L773 36 M793 16 L796 13");
icons.append("path").attr("d", "M912 10 H941 M916 14 V40 H941 V14 H916 M924 22 V32 M929 20 V34 M934 22 V32");
icons.append("path").attr("d", "M2173 16 H2182 L2185 10 H2198 L2201 16 H2210 V42 H2173 Z");
icons.append("circle").attr("cx", 2191).attr("cy", 28).attr("r", 7);
icons.append("path").attr("d", "M2262 11 H2253 V20 M2254 12 L2259 18 M2273 11 H2282 V20 M2281 12 L2276 18 M2262 41 H2253 V32 M2254 40 L2259 34 M2273 41 H2282 V32 M2281 40 L2276 34");
icons.append("path").attr("stroke", BLUE).attr("d", "M1120 24 L1125 30 L1130 24");

[453.7, 1032].forEach((vx) => {
  svg.append("line").attr("x1", vx).attr("x2", vx).attr("y1", 0).attr("y2", 64)
    .attr("stroke", "#3a3a3a").attr("stroke-width", 2);
});

toolbarItems.forEach(([t, px]) => label(svg, px, 27, t, DIM, 28, CJK));
periodItems.forEach(([t, px]) => label(svg, px, 27, t, DIM, 27, CJK));
label(svg, 1066, 27, "1日", BLUE, 27, CJK);

// info line above the candles
label(svg, 5, 84, "时间:2020-02-07 08:00", TXT);
label(svg, 319, 84, "开:9745.0", TXT);
label(svg, 470, 84, "高:9835.0", TXT);
label(svg, 620, 84, "低:9717.2", TXT);
label(svg, 772, 84, "收:9775.5", TXT);
label(svg, 919, 84, "涨幅:", TXT);
label(svg, 982, 84, "0.31%", "#22d35a");
label(svg, 1079, 84, "振幅:1.21%", TXT);

// scroll tabs
icons.append("path").attr("stroke", "#444").attr("d", "M2214 65 L2219 86 H2279 L2283 65");
icons.append("path").attr("stroke", DIM).attr("d", "M2243 79 L2249 72 L2255 79");
icons.append("path").attr("stroke", "#444").attr("d", "M2306 1565 L2288 1572 L2284 1578 V1624");
icons.append("path").attr("stroke", DIM).attr("d", "M2292 1592 L2298 1599 L2292 1606");

// pane headers with their gear and close boxes
function headerBoxes(x1, x2, y0, h, w) {
  [x1, x2].forEach((bx, k) => {
    svg.append("rect").attr("x", bx).attr("y", y0).attr("width", w).attr("height", h).attr("fill", "#1c1e21");
    if (k === 0) {
      svg.append("circle").attr("cx", bx + w / 2).attr("cy", y0 + h / 2).attr("r", 7)
        .attr("fill", "none").attr("stroke", "#090909").attr("stroke-width", 5);
    } else {
      svg.append("path").attr("fill", "none").attr("stroke", "#090909").attr("stroke-width", 3)
        .attr("d", `M${bx + 7} ${y0 + 6} L${bx + w - 7} ${y0 + h - 6} M${bx + w - 7} ${y0 + 6} L${bx + 7} ${y0 + h - 6}`);
    }
  });
}
label(svg, 5, 802, "VOLUME", TXT);
headerBoxes(99, 137, 790, 27, 28);
label(svg, 193, 802, "VOLUME:860.5605", TXT);
label(svg, 431, 802, "MA(5):6,200.1427", TXT);
label(svg, 684, 802, "MA(10):5,846.5165", YELLOW);

label(svg, 5, 1102, "MACD(12,26,9)", TXT);
headerBoxes(197, 235, 1090, 27, 28);
label(svg, 291, 1102, "DIF:384.0", TXT);
label(svg, 445, 1102, "DEA:358.1", YELLOW);
label(svg, 599, 1102, "MACD:51.9", GREEN);

// indicator strips: each name takes its cells plus a fixed gap
function indicatorStrip(py, colors) {
  let px = 17;
  indicatorNames.forEach((name) => {
    label(svg, px, py, name, colors[name] || DIM);
    px += name.length * 14 + 20;
  });
}
indicatorStrip(1062, { VOLUME: BLUE, MACD: "#454545" });
indicatorStrip(1592, { VOLUME: "#454545", MACD: BLUE, ATR: "#f0f0f0" });

// hand-drawn annotations
svg.append("rect").attr("x", 948).attr("y", 194).attr("width", 402).attr("height", 52).attr("fill", "#303030");
svg.append("rect").attr("x", 1640).attr("y", 582).attr("width", 400).attr("height", 52).attr("fill", "#303030");
label(svg, 949, 219, "2016年6月18日", "#fff", 39.6, CJK);
label(svg, 1640, 606, "2016年7月10日", "#fff", 39.6, CJK);

const arrows = svg.append("g").attr("fill", "none").attr("stroke", "#fdd816").attr("stroke-width", 9);
arrows.append("path").attr("d", "M1322 210 L1772 148");
arrows.append("path").attr("d", "M1750 133 L1773 148 L1755 170");
arrows.append("path").attr("d", "M1815 529 L1901 298");
arrows.append("path").attr("d", "M1878 310 L1902 297 L1913 320");
</script>
</body>
</html>
